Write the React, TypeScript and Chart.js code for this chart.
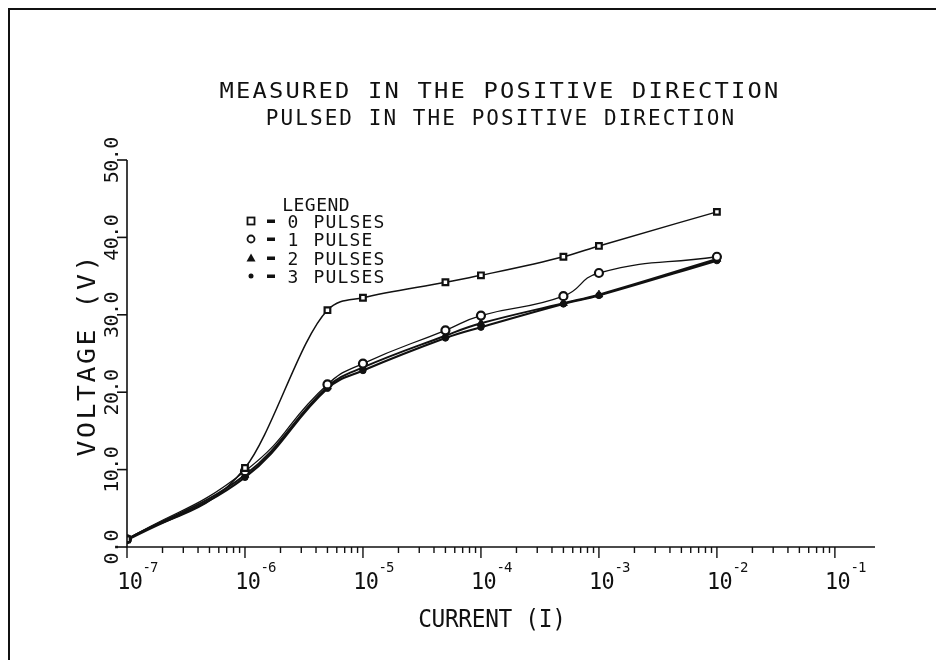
import React, { useEffect, useRef } from "react";
import { Chart, registerables } from "chart.js";

Chart.register(...registerables);

// ---- data ----
const currents = [1e-7, 1e-6, 5e-6, 1e-5, 5e-5, 1e-4, 5e-4, 1e-3, 1e-2];
const pulses0 = [1.0, 10.2, 30.6, 32.2, 34.2, 35.1, 37.5, 38.9, 43.3];
const pulses1 = [1.0, 9.8, 21.0, 23.7, 28.0, 29.9, 32.4, 35.4, 37.5];
const pulses2 = [1.0, 9.3, 20.7, 23.2, 27.3, 28.9, 31.5, 32.6, 37.2];
const pulses3 = [0.9, 9.0, 20.5, 22.8, 27.0, 28.4, 31.4, 32.5, 37.0];
const seriesNames = ["0 PULSES", "1 PULSE", "2 PULSES", "3 PULSES"];
const seriesDigits = ["0", "1", "2", "3"];
const yTickValues = [0, 10, 20, 30, 40, 50];
const yTickLabels = ["0.0", "10.0", "20.0", "30.0", "40.0", "50.0"];
const xDecades = [-7, -6, -5, -4, -3, -2, -1];
const titleLines = ["MEASURED IN THE POSITIVE DIRECTION", "PULSED IN THE POSITIVE DIRECTION"];
const xTitle = "CURRENT (I)";
const yTitle = "VOLTAGE (V)";
const legendTitle = "LEGEND";

const FONT = "'DejaVu Sans Mono', monospace";
const INK = "#111";

function drawSpaced(
  ctx: CanvasRenderingContext2D,
  text: string,
  cx: number,
  cy: number,
  advance: number,
  size: number,
  stretch = 1
) {
  ctx.font = `${size}px ${FONT}`;
  ctx.textAlign = "center";
  ctx.textBaseline = "alphabetic";
  const n = text.length;
  const start = cx - (advance * n) / 2 + advance / 2;
  const base = cy + size * 0.365;
  for (let i = 0; i < n; i++) {
    ctx.save();
    ctx.translate(start + i * advance, base);
    ctx.scale(stretch, 1);
    ctx.fillText(text[i], 0, 0);
    ctx.restore();
  }
}

function drawLeft(
  ctx: CanvasRenderingContext2D,
  text: string,
  x: number,
  cy: number,
  advance: number,
  size: number,
  stretch = 1
) {
  const n = text.length;
  drawSpaced(ctx, text, x + (advance * n) / 2, cy, advance, size, stretch);
}

const plotterPlugin = {
  id: "plotter",
  afterDraw(chart: any) {
    const ctx: CanvasRenderingContext2D = chart.ctx;
    const xs = chart.scales.x;
    const ys = chart.scales.y;
    const area = chart.chartArea;
    ctx.save();
    ctx.fillStyle = INK;
    ctx.strokeStyle = INK;
    ctx.lineCap = "butt";

    // page frame
    ctx.lineWidth = 2;
    ctx.beginPath();
    ctx.moveTo(9, 660);
    ctx.lineTo(9, 9);
    ctx.lineTo(936, 9);
    ctx.stroke();

    // axes
    const y0 = ys.getPixelForValue(0);
    const x0 = xs.getPixelForValue(currents[0]);
    ctx.lineWidth = 1.6;
    ctx.beginPath();
    ctx.moveTo(x0, ys.getPixelForValue(50));
    ctx.lineTo(x0, y0);
    ctx.lineTo(area.right, y0);
    ctx.stroke();

    // y ticks + labels
    yTickValues.forEach((v, i) => {
      const py = ys.getPixelForValue(v);
      ctx.beginPath();
      ctx.moveTo(x0 - 10, py);
      ctx.lineTo(x0, py);
      ctx.stroke();
      ctx.save();
      ctx.translate(111, py);
      ctx.rotate(-Math.PI / 2);
      drawSpaced(ctx, yTickLabels[i], 0, 0, 11.5, 19, 1.05);
      ctx.restore();
    });

    // x ticks (major + minor) and labels
    ctx.lineWidth = 1.4;
    xDecades.forEach((d, i) => {
      const base = Math.pow(10, d);
      const px = xs.getPixelForValue(base);
      ctx.beginPath();
      ctx.moveTo(px, y0);
      ctx.lineTo(px, y0 + 11);
      ctx.stroke();
      if (i < xDecades.length - 1) {
        for (let m = 2; m <= 9; m++) {
          const mx = xs.getPixelForValue(m * base);
          ctx.beginPath();
          ctx.moveTo(mx, y0);
          ctx.lineTo(mx, y0 + 6);
          ctx.stroke();
        }
      }
      drawSpaced(ctx, "10", px + 3, y0 + 34, 12.5, 23, 0.95);
      drawLeft(ctx, String(d), px + 16, y0 + 20, 7.5, 14);
    });

    // axis titles
    drawSpaced(ctx, xTitle, 492, 618, 13.4, 24, 0.95);
    ctx.save();
    ctx.translate(86, 356);
    ctx.rotate(-Math.PI / 2);
    drawSpaced(ctx, yTitle, 0, 0, 18.5, 24, 1.1);
    ctx.restore();

    // title
    drawSpaced(ctx, titleLines[0], 499, 90, 16.5, 22, 1.08);
    drawSpaced(ctx, titleLines[1], 500, 117, 14.7, 21, 1.0);

    // legend
    drawLeft(ctx, legendTitle, 282, 204, 11.3, 18, 1.0);
    const rowY = [221, 239, 258, 276];
    rowY.forEach((ry, i) => {
      const sx = 251;
      ctx.lineWidth = 1.8;
      if (i === 0) {
        ctx.fillStyle = "#fff";
        ctx.fillRect(sx - 3.5, ry - 3.5, 7, 7);
        ctx.strokeRect(sx - 3.5, ry - 3.5, 7, 7);
      } else if (i === 1) {
        ctx.fillStyle = "#fff";
        ctx.beginPath();
        ctx.arc(sx, ry, 3.5, 0, Math.PI * 2);
        ctx.fill();
        ctx.stroke();
      } else if (i === 2) {
        ctx.fillStyle = INK;
        ctx.beginPath();
        ctx.moveTo(sx, ry - 4.5);
        ctx.lineTo(sx + 4.5, ry + 3.5);
        ctx.lineTo(sx - 4.5, ry + 3.5);
        ctx.closePath();
        ctx.fill();
      } else {
        ctx.fillStyle = INK;
        ctx.beginPath();
        ctx.arc(sx, ry, 2.5, 0, Math.PI * 2);
        ctx.fill();
      }
      ctx.fillStyle = INK;
      ctx.fillRect(267, ry - 1.5, 8, 3.5);
      drawLeft(ctx, seriesDigits[i], 287, ry, 12, 18, 1.0);
      drawLeft(ctx, seriesNames[i].slice(2), 313, ry, 12, 18, 1.0);
    });

    ctx.restore();
  },
};

const toPoints = (vals: number[]) => currents.map((c, i) => ({ x: c, y: vals[i] }));

export default function App() {
  const ref = useRef<HTMLCanvasElement | null>(null);
  useEffect(() => {
    document.body.style.margin = "0";
    document.body.style.background = "#fff";
    const canvas = ref.current!;
    const chart = new Chart(canvas, {
      type: "line",
      data: {
        datasets: [
          {
            label: seriesNames[0],
            data: toPoints(pulses0),
            borderColor: INK,
            borderWidth: 1.5,
            cubicInterpolationMode: "monotone",
            pointStyle: "rect",
            pointRadius: 4,
            pointBackgroundColor: "#fff",
            pointBorderColor: INK,
            pointBorderWidth: 2.2,
          },
          {
            label: seriesNames[1],
            data: toPoints(pulses1),
            borderColor: INK,
            borderWidth: 1.3,
            tension: 0.5,
            pointStyle: "circle",
            pointRadius: 4,
            pointBackgroundColor: "#fff",
            pointBorderColor: INK,
            pointBorderWidth: 2.2,
          },
          {
            label: seriesNames[2],
            data: toPoints(pulses2),
            borderColor: INK,
            borderWidth: 2,
            tension: 0.4,
            pointStyle: "triangle",
            pointRadius: 4.5,
            pointBackgroundColor: INK,
            pointBorderColor: INK,
            pointBorderWidth: 1,
          },
          {
            label: seriesNames[3],
            data: toPoints(pulses3),
            borderColor: INK,
            borderWidth: 2.2,
            tension: 0.4,
            pointStyle: "circle",
            pointRadius: 3.2,
            pointBackgroundColor: INK,
            pointBorderColor: INK,
            pointBorderWidth: 1,
          },
        ],
      },
      options: {
        animation: false,
        responsive: false,
        maintainAspectRatio: false,
        layout: { padding: { left: 127, top: 160, right: 68, bottom: 119 } },
        plugins: {
          legend: { display: false },
          tooltip: { enabled: false },
          title: { display: false },
        },
        scales: {
          x: { type: "logarithmic", min: 1e-7, max: Math.pow(10, -0.66), display: false },
          y: { type: "linear", min: 0, max: 50, display: false },
        },
      },
      plugins: [plotterPlugin],
    });
    return () => chart.destroy();
  }, []);
  return (
    <div style={{ width: 943, height: 666, background: "#fff" }}>
      <canvas ref={ref} width={943} height={666} style={{ width: 943, height: 666, display: "block" }} />
    </div>
  );
}
